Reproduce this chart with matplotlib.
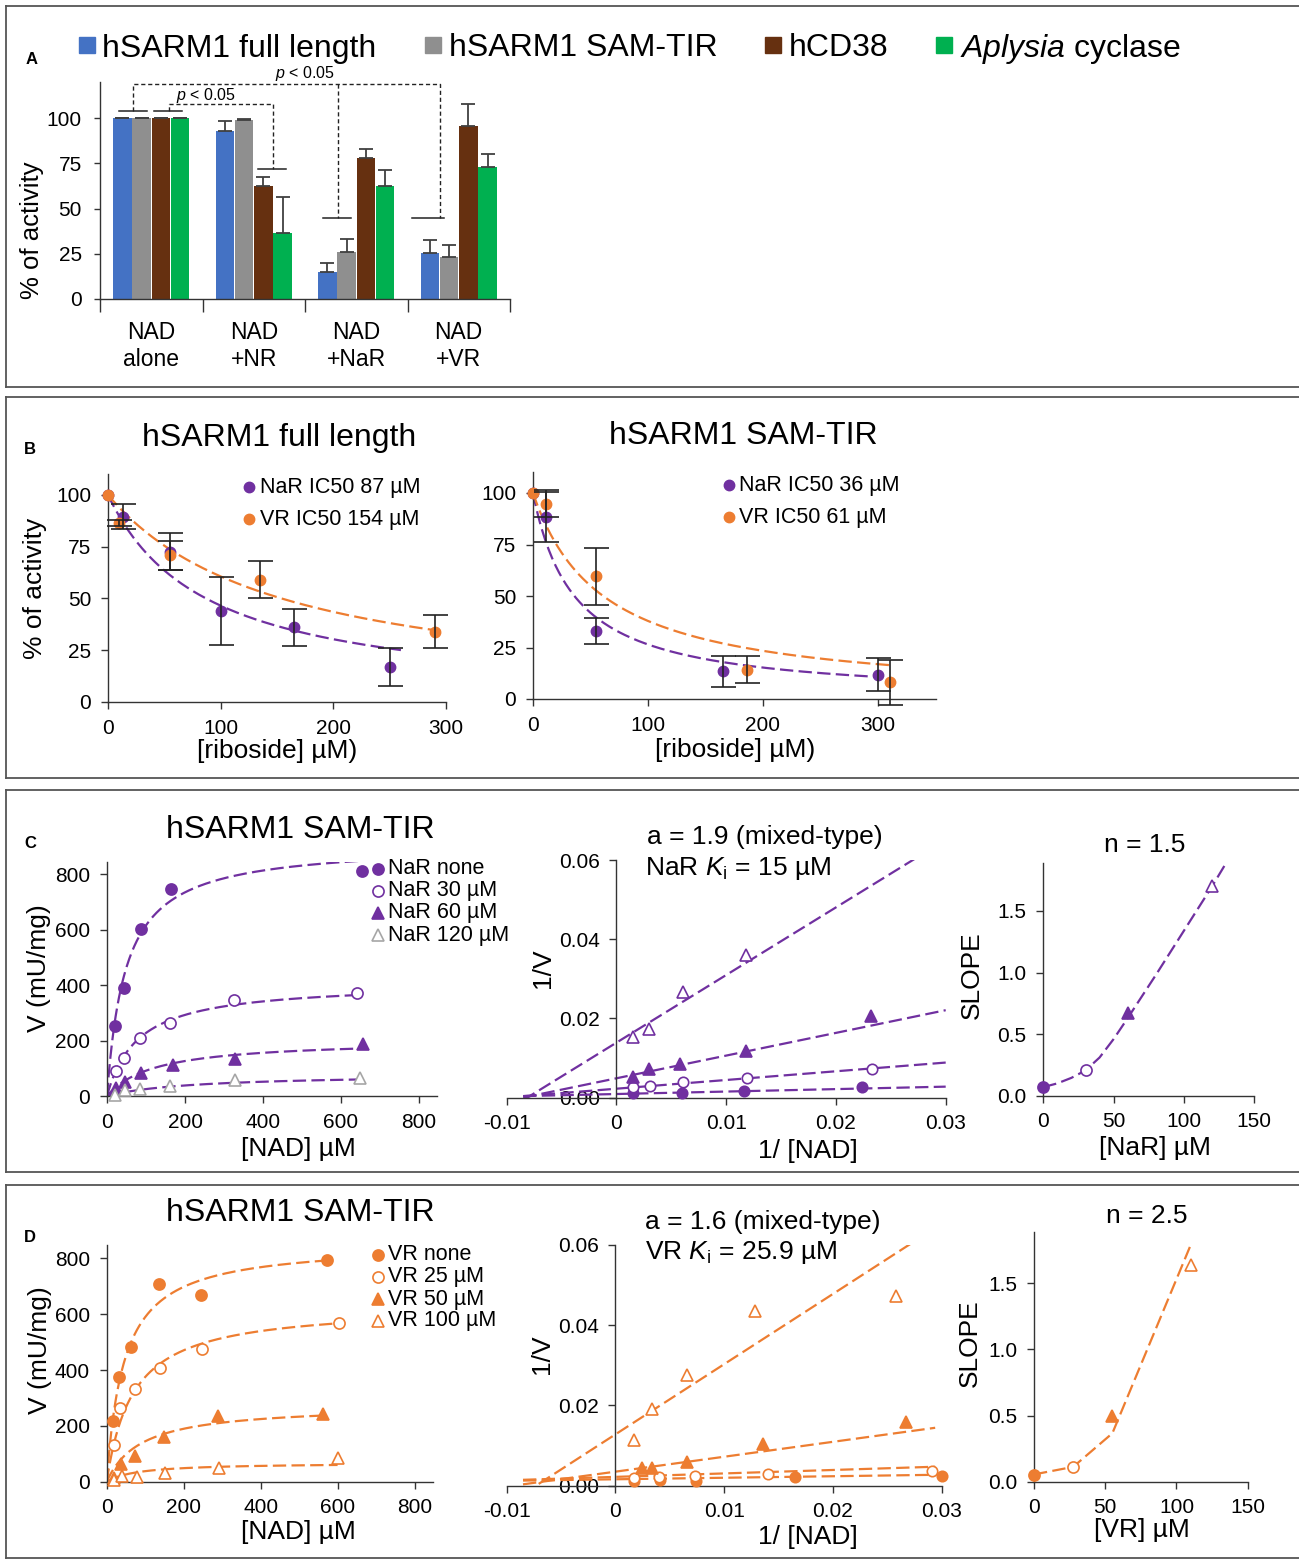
import numpy as np
import matplotlib
matplotlib.use("Agg")
import matplotlib.pyplot as plt
from matplotlib.lines import Line2D

plt.rcParams['font.family'] = ['Liberation Sans', 'DejaVu Sans']
plt.rcParams['mathtext.fontset'] = 'custom'
plt.rcParams['mathtext.rm'] = 'Liberation Sans'
plt.rcParams['mathtext.it'] = 'Liberation Sans:italic'

W, H = 1299, 1560

PURPLE = '#7030A0'
ORANGE = '#ED7D31'
GREY_MK = '#A6A6A6'

# ---------------- panel A data
groups = ['NAD\nalone', 'NAD\n+NR', 'NAD\n+NaR', 'NAD\n+VR']
bar_names = ['hSARM1 full length', 'hSARM1 SAM-TIR', 'hCD38', '$\\mathit{Aplysia}$ cyclase']
bar_colors = ['#4472C4', '#8F8F8F', '#663010', '#00B050']
full_len = [100, 93, 15, 25.5]
full_len_err = [0, 5.5, 5, 7]
sam_tir = [100, 98.7, 26, 23.3]
sam_tir_err = [0, 0.7, 7, 6.3]
cd38 = [100, 62.3, 77.7, 95.6]
cd38_err = [0, 5, 5, 12]
aplysia = [100, 36.2, 62.6, 72.7]
aplysia_err = [0, 20, 8.5, 7.4]

# ---------------- panel B data (IC50)
bl_nar_x = [0, 13, 55, 100, 165, 250]
bl_nar_y = [100, 89.5, 72.5, 44, 36, 17]
bl_nar_err = [0, 6, 9, 16.5, 9, 9.3]
bl_vr_x = [0, 10, 55, 135, 290]
bl_vr_y = [100, 86.3, 70.8, 59, 34]
bl_vr_err = [0, 1.5, 7, 9, 8]
bl_ic50 = [87, 154]
bl_fit_end = [260, 300]

br_nar_x = [0, 11, 55, 165, 300]
br_nar_y = [100, 88.3, 33, 13.5, 11.8]
br_nar_err = [0, 12, 6.5, 7.5, 8]
br_vr_x = [0, 11, 55, 186, 310]
br_vr_y = [100, 94.8, 59.5, 14.3, 8.1]
br_vr_err = [0, 6.5, 14, 6.5, 11]
br_ic50 = [36, 61]
br_fit_end = [300, 310]

# ---------------- panel C data (NaR)
c_labels = ['NaR none', 'NaR 30 µM', 'NaR 60 µM', 'NaR 120 µM']
c_nad = [[19.7, 43.6, 86, 165, 654],
         [22, 43, 84, 162.5, 326, 641.5],
         [22, 45, 86, 168, 329, 657],
         [20, 45, 84, 162, 328, 648]]
c_v = [[254, 389, 603, 746, 812],
       [91, 138, 208, 262, 345, 371],
       [28, 52, 84, 112, 134, 187],
       [4, 22, 25, 37, 58, 64]]
c_vmax = [912, 410, 204, 80]
c_km = [48, 80, 123, 220]

c_inv_s = [[0.00152, 0.0060, 0.0116, 0.0224],
           [0.0015, 0.0031, 0.0061, 0.0119, 0.0233],
           [0.0015, 0.0030, 0.0058, 0.0118, 0.0232],
           [0.0015, 0.0030, 0.0061, 0.0118]]
c_inv_v = [[0.0011, 0.00126, 0.0016, 0.0026],
           [0.0028, 0.00295, 0.0039, 0.0049, 0.0072],
           [0.0053, 0.0072, 0.0085, 0.0118, 0.0205],
           [0.0154, 0.0173, 0.0266, 0.0359]]
c_lb_icpt = [0.00093, 0.00227, 0.0049, 0.0139]
c_lb_slope = [0.062, 0.22, 0.573, 1.707]

c_conc = [0, 30, 60, 120]
c_slope = [0.068, 0.21, 0.67, 1.70]
c_fit_x = [0, 10, 20, 30, 40, 50, 60, 70, 80, 90, 100, 110, 120, 130]
c_fit_y = [0.07, 0.10, 0.145, 0.205, 0.31, 0.46, 0.63, 0.805, 0.98, 1.16, 1.34, 1.52, 1.70, 1.89]

# ---------------- panel D data (VR)
d_labels = ['VR none', 'VR 25 µM', 'VR 50 µM', 'VR 100 µM']
d_nad = [[17.3, 32, 62, 136, 245.5, 572],
         [20, 35.5, 72.8, 138.6, 247, 605],
         [20, 37, 74, 150, 288, 561],
         [20, 39, 78, 152, 292, 600]]
d_v = [[218, 376, 481, 708, 668, 796],
       [131, 263, 331, 406, 475, 570],
       [15, 62, 92, 161, 236, 241],
       [6, 20, 18, 32, 50, 84]]
d_vmax = [855, 632, 275, 68]
d_km = [45, 68.5, 90, 80]

d_inv_s = [[0.0017, 0.0041, 0.0074, 0.0165, 0.0300],
           [0.00166, 0.0040, 0.0073, 0.0140, 0.0291],
           [0.0024, 0.0034, 0.0066, 0.0136, 0.0267],
           [0.00166, 0.0034, 0.0066, 0.0128, 0.0258]]
d_inv_v = [[0.0012, 0.0014, 0.0012, 0.0021, 0.0025],
           [0.0018, 0.0021, 0.0025, 0.0029, 0.0037],
           [0.0043, 0.0043, 0.0058, 0.0105, 0.0160],
           [0.0114, 0.0190, 0.0276, 0.0436, 0.0474]]
d_lb_icpt = [0.0016, 0.0022, 0.0035, 0.0128]
d_lb_slope = [0.038, 0.086, 0.372, 1.75]

d_conc = [0, 27.5, 55, 110]
d_slope = [0.05, 0.108, 0.50, 1.64]
d_fit_x = [0, 27.5, 55, 110]
d_fit_y = [0.055, 0.112, 0.366, 1.79]

# marker styles per inhibitor level: (marker, filled)
mk_styles = [('o', True), ('o', False), ('^', True), ('^', False)]
DASH = (0, (6, 2.4))

fig = plt.figure(figsize=(W / 100, H / 100), dpi=100)


def add_ax(left, right, top, bottom):
    ax = fig.add_axes([left / W, 1 - bottom / H, (right - left) / W, (bottom - top) / H])
    for s in ['top', 'right']:
        ax.spines[s].set_visible(False)
    for s in ['left', 'bottom']:
        ax.spines[s].set_linewidth(1.0)
        ax.spines[s].set_color('#333333')
    ax.tick_params(direction='out', length=5, width=1, labelsize=15,
                   color='#333333', pad=7)
    ax.patch.set_alpha(0)
    return ax


def ftext(x, y, s, **kw):
    kw.setdefault('ha', 'center')
    kw.setdefault('va', 'center')
    return fig.text(x / W, 1 - y / H, s, **kw)


def fmarker(x, y, **kw):
    fig.add_artist(Line2D([x / W], [1 - y / H], transform=fig.transFigure,
                          linestyle='none', **kw))


def mk_kw(i, color, ms=8, edge=None):
    m, filled = mk_styles[i]
    return dict(marker=m, markersize=ms + (1 if m == '^' else 0),
                markerfacecolor=color if filled else 'white',
                markeredgecolor=edge or color, markeredgewidth=1.2)


def frame(top, bottom):
    kw = dict(transform=fig.transFigure, color='#555555', lw=1.3)
    fig.add_artist(Line2D([6 / W, 1], [1 - top / H] * 2, **kw))
    fig.add_artist(Line2D([6 / W, 1], [1 - bottom / H] * 2, **kw))
    fig.add_artist(Line2D([6 / W] * 2, [1 - top / H, 1 - bottom / H], **kw))


frame(6, 386.5)
frame(396.5, 777.5)
frame(790, 1171.5)
frame(1184.5, 1558)

for letter, (lx, ly) in zip('ABCD', [(32, 60), (30, 449), (30, 843), (30, 1237)]):
    ftext(lx, ly, letter, fontsize=12, fontweight='bold')

# ================= panel A
ax = add_ax(100, 510, 81.8, 299)
series = [full_len, sam_tir, cd38, aplysia]
errors = [full_len_err, sam_tir_err, cd38_err, aplysia_err]
xg = np.arange(len(groups))
width = 0.18
offsets = (np.arange(4) - 1.5) * 0.187
for i in range(4):
    ax.bar(xg + offsets[i], series[i], width, color=bar_colors[i], zorder=2)
    ax.errorbar(xg + offsets[i], series[i], yerr=[np.zeros(4), errors[i]], fmt='none',
                ecolor='#404040', elinewidth=1.3, capsize=5, capthick=1.3, zorder=3)
ax.set_xlim(-0.5, 3.5)
ax.set_ylim(0, 120)
ax.set_yticks([0, 25, 50, 75, 100])
ax.set_xticks(xg)
ax.set_xticklabels(groups, fontsize=16.5, linespacing=1.2)
ax.set_xticks(np.arange(5) - 0.5, minor=True)
ax.tick_params(axis='x', which='major', length=0, pad=16)
ax.tick_params(axis='x', which='minor', length=9, width=1, color='#333333')
ax.tick_params(axis='y', length=4, pad=9)

# significance brackets
solid = [(-0.317, -0.044, 104), (0.024, 0.298, 104), (1.039, 1.312, 72),
         (1.673, 1.946, 45), (2.541, 2.854, 45)]
for x0, x1, y in solid:
    ax.plot([x0, x1], [y, y], color='#222222', lw=1.1, clip_on=False, zorder=4)
dkw = dict(color='#222222', lw=1.0, ls=(0, (3, 2)), clip_on=False, zorder=4)
ax.plot([-0.18, -0.18, 2.815, 2.815], [104, 119, 119, 45], **dkw)
ax.plot([1.82, 1.82], [119, 45], **dkw)
ax.plot([0.171, 0.171, 1.19, 1.19], [104, 108, 108, 72], **dkw)
ax.text(1.5, 124.5, '$\\mathit{p}$ < 0.05', ha='center', va='center', fontsize=11.5)
ax.text(0.53, 112.5, '$\\mathit{p}$ < 0.05', ha='center', va='center', fontsize=11.5)
ftext(32, 230, '% of activity', fontsize=18.5, rotation=90)

# legend A
for cx, tx, name, col in zip([86.5, 433, 773, 944], [102, 449, 789, 960], bar_names, bar_colors):
    fmarker(cx, 45, marker='s', markersize=12, markerfacecolor=col, markeredgecolor=col)
    ftext(tx, 45, name, fontsize=23, ha='left', va='center_baseline')


# ================= panel B
def ic50_panel(ax, nar, vr, ic50s, ends):
    for (xs, ys, es), col, ic, xe in zip([nar, vr], [PURPLE, ORANGE], ic50s, ends):
        xf = np.linspace(0, xe, 200)
        ax.plot(xf, 100 / (1 + xf / ic), color=col, lw=1.6, ls=DASH, zorder=2)
    for (xs, ys, es), col in zip([nar, vr], [PURPLE, ORANGE]):
        ax.plot(xs, ys, 'o', color=col, ms=7.5, zorder=3, clip_on=False)
        keep = [k for k in range(len(xs)) if es[k] > 0]
        ax.errorbar([xs[k] for k in keep], [ys[k] for k in keep], yerr=[es[k] for k in keep],
                    fmt='none', ecolor='#222222', elinewidth=1.2,
                    capsize=9, capthick=1.2, zorder=4, clip_on=False)
    ax.set_ylim(0, 110)
    ax.set_yticks([0, 25, 50, 75, 100])


ax = add_ax(108, 446, 474.2, 702)
ic50_panel(ax, (bl_nar_x, bl_nar_y, bl_nar_err), (bl_vr_x, bl_vr_y, bl_vr_err), bl_ic50, bl_fit_end)
ax.set_xlim(0, 300)
ax.set_xticks([0, 100, 200, 300])
ftext(279, 438, 'hSARM1 full length', fontsize=23)
ftext(277, 751, '[riboside] µM)', fontsize=19)
ftext(35, 588, '% of activity', fontsize=19, rotation=90)
fmarker(249, 487, marker='o', ms=7.5, color=PURPLE)
ftext(260, 487, 'NaR IC50 %d µM' % bl_ic50[0], fontsize=15.5, ha='left')
fmarker(249, 519, marker='o', ms=7.5, color=ORANGE)
ftext(260, 519, 'VR IC50 %d µM' % bl_ic50[1], fontsize=15.5, ha='left')

ax = add_ax(533, 935.5, 472.4, 699)
ic50_panel(ax, (br_nar_x, br_nar_y, br_nar_err), (br_vr_x, br_vr_y, br_vr_err), br_ic50, br_fit_end)
ax.set_xlim(0, 350)
ax.set_xticks([0, 100, 200, 300])
ftext(743, 436, 'hSARM1 SAM-TIR', fontsize=23)
ftext(735, 750, '[riboside] µM)', fontsize=19)
fmarker(729, 485, marker='o', ms=7.5, color=PURPLE)
ftext(739, 485, 'NaR IC50 %d µM' % br_ic50[0], fontsize=15.5, ha='left')
fmarker(729, 517, marker='o', ms=7.5, color=ORANGE)
ftext(739, 517, 'VR IC50 %d µM' % br_ic50[1], fontsize=15.5, ha='left')


# ================= kinetics helpers
def mm_panel(ax, nad, v, vmax, km, col, grey_last=False):
    for i in range(4):
        xf = np.linspace(0, max(nad[i]), 300)
        ax.plot(xf, vmax[i] * xf / (km[i] + xf), color=col, lw=1.6, ls=DASH, zorder=2)
    for i in range(4):
        edge = GREY_MK if (grey_last and i == 3) else None
        ax.plot(nad[i], v[i], linestyle='none', zorder=3, clip_on=False,
                **mk_kw(i, edge or col, edge=edge))
    ax.set_yticks([0, 200, 400, 600, 800])
    ax.set_xticks([0, 200, 400, 600, 800])


def lb_panel(ax, xs, ys, icpt, slope, col, x_end):
    for i in range(4):
        xf = np.array([-0.0085, x_end])
        ax.plot(xf, icpt[i] + slope[i] * xf, color=col, lw=1.6, ls=DASH, zorder=2)
    for i in range(4):
        ax.plot(xs[i], ys[i], linestyle='none', zorder=3, clip_on=False, **mk_kw(i, col, ms=7.5))
    ax.set_xlim(-0.01, 0.03)
    ax.set_ylim(0, 0.06)
    ax.spines['left'].set_position(('data', 0))
    ax.set_xticks([-0.01, 0, 0.01, 0.02, 0.03])
    ax.set_xticklabels(['-0.01', '0', '0.01', '0.02', '0.03'])
    ax.set_yticks([0, 0.02, 0.04, 0.06])
    ax.set_yticklabels(['0.00', '0.02', '0.04', '0.06'])


def slope_panel(ax, conc, slope, fx, fy, col):
    ax.plot(fx, fy, color=col, lw=1.6, ls=DASH, zorder=2)
    for i in range(4):
        ax.plot([conc[i]], [slope[i]], linestyle='none', zorder=3, clip_on=False,
                **mk_kw(i, col, ms=8))
    ax.set_xlim(0, 150)
    ax.set_ylim(0, 1.89)
    ax.set_xticks([0, 50, 100, 150])
    ax.set_yticks([0, 0.5, 1.0, 1.5])
    ax.set_yticklabels(['0.0', '0.5', '1.0', '1.5'])


# ================= panel C
ax = add_ax(107, 436.6, 862, 1096)
mm_panel(ax, c_nad, c_v, c_vmax, c_km, PURPLE, grey_last=True)
ax.set_xlim(0, 845)
ax.set_ylim(0, 845)
ftext(300, 830, 'hSARM1 SAM-TIR', fontsize=23)
ftext(298, 1149, '[NAD] µM', fontsize=19)
ftext(39, 968, 'V (mU/mg)', fontsize=19, rotation=90)
for i, (lab, yy) in enumerate(zip(c_labels, [869, 890.7, 912.5, 935])):
    edge = GREY_MK if i == 3 else None
    fmarker(378, yy, **mk_kw(i, edge or PURPLE, edge=edge))
    ftext(388, yy, lab, fontsize=15.5, ha='left')

ax = add_ax(506.7, 945.7, 860, 1097.7)
lb_panel(ax, c_inv_s, c_inv_v, c_lb_icpt, c_lb_slope, PURPLE, 0.03)
ftext(765, 837, 'a = 1.9 (mixed-type)', fontsize=19)
ftext(645, 868, 'NaR $\\mathit{K}_\\mathrm{i}$ = 15 µM', fontsize=19, ha='left')
ftext(543, 968, '1/V', fontsize=19, rotation=90)
ftext(808, 1151, '1/ [NAD]', fontsize=19)

ax = add_ax(1043.3, 1254.3, 862.9, 1095.7)
slope_panel(ax, c_conc, c_slope, c_fit_x, c_fit_y, PURPLE)
ftext(1145, 845, 'n = 1.5', fontsize=19)
ftext(972, 975, 'SLOPE', fontsize=19, rotation=90)
ftext(1155, 1148, '[NaR] µM', fontsize=19)

# ================= panel D
ax = add_ax(106.7, 433, 1245, 1481.7)
mm_panel(ax, d_nad, d_v, d_vmax, d_km, ORANGE)
ax.set_xlim(0, 848)
ax.set_ylim(0, 848)
ftext(300, 1213, 'hSARM1 SAM-TIR', fontsize=23)
ftext(298, 1532, '[NAD] µM', fontsize=19)
ftext(40, 1350, 'V (mU/mg)', fontsize=19, rotation=90)
for i, (lab, yy) in enumerate(zip(d_labels, [1255, 1276.7, 1299, 1320.7])):
    fmarker(378, yy, **mk_kw(i, ORANGE))
    ftext(388, yy, lab, fontsize=15.5, ha='left')

ax = add_ax(506.7, 941.7, 1245, 1485.7)
lb_panel(ax, d_inv_s, d_inv_v, d_lb_icpt, d_lb_slope, ORANGE, 0.0294)
ftext(763, 1222, 'a = 1.6 (mixed-type)', fontsize=19)
ftext(645, 1253, 'VR $\\mathit{K}_\\mathrm{i}$ = 25.9 µM', fontsize=19, ha='left')
ftext(542, 1354, '1/V', fontsize=19, rotation=90)
ftext(808, 1537, '1/ [NAD]', fontsize=19)

ax = add_ax(1034, 1247.7, 1231.7, 1481.7)
slope_panel(ax, d_conc, d_slope, d_fit_x, d_fit_y, ORANGE)
ftext(1147, 1216, 'n = 2.5', fontsize=19)
ftext(970, 1343, 'SLOPE', fontsize=19, rotation=90)
ftext(1142, 1530, '[VR] µM', fontsize=19)

fig.savefig('out.png', dpi=100, facecolor='white')
